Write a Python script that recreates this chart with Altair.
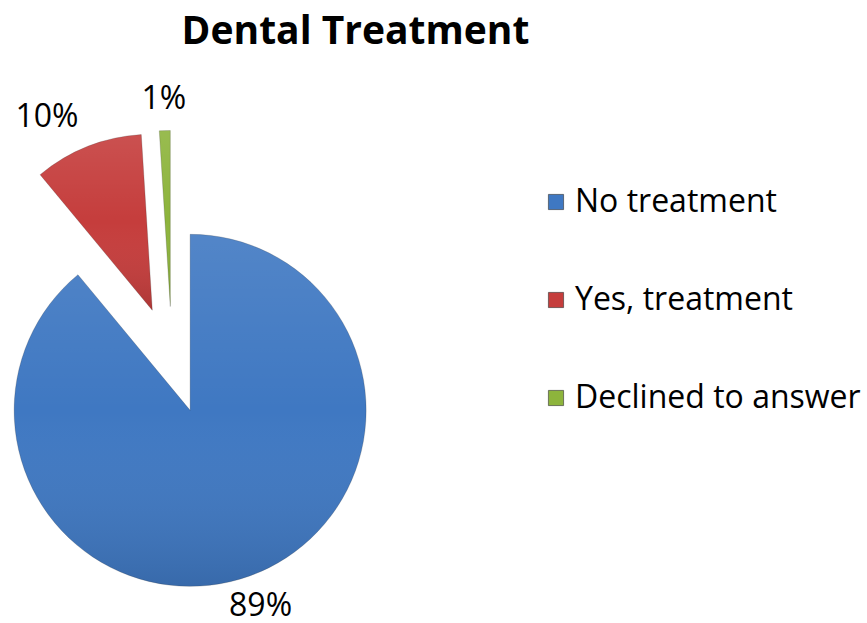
import altair as alt
import pandas as pd

categories = ["No treatment", "Yes, treatment", "Declined to answer"]
values = [89, 10, 1]
labels = ["89%", "10%", "1%"]
colors = ["#3f78c2", "#c53d3c", "#8db43c"]

df = pd.DataFrame({
    "category": categories,
    "value": values,
    "label": labels,
    "order": list(range(len(categories))),
})

TOP = 60          # room for title
CX, CY = 172, 360 - TOP   # unexploded pie centre (view coords)
EXPLODE = 53.5
R = 176
LR = 208
FS = 32

base = (
    alt.Chart(df)
    .transform_joinaggregate(total="sum(value)")
    .transform_window(cum="sum(value)", sort=[alt.SortField("order")], frame=[None, 0])
    .transform_calculate(
        t0="2*PI*(datum.cum - datum.value)/datum.total",
        t1="2*PI*datum.cum/datum.total",
    )
    .transform_calculate(mid="(datum.t0 + datum.t1)/2")
    .transform_calculate(
        vx=f"{CX} + {EXPLODE}*sin(datum.mid)",
        vy=f"{CY} - {EXPLODE}*cos(datum.mid)",
    )
    .transform_calculate(
        lx=f"datum.vx + {LR}*sin(datum.mid) + (sin(datum.mid) < -0.2 ? -0.3*{FS}*length(datum.label) : 0)",
        ly=f"datum.vy - {LR}*cos(datum.mid)",
    )
)

color_scale = alt.Scale(domain=categories, range=colors)

arcs = base.mark_arc(outerRadius=R, stroke="#2a2a2a", strokeWidth=0.6, strokeOpacity=0.35).encode(
    x=alt.X("vx:Q", scale=None),
    y=alt.Y("vy:Q", scale=None),
    theta=alt.Theta("t0:Q", scale=None),
    theta2="t1:Q",
    color=alt.Color(
        "category:N",
        scale=color_scale,
        sort=categories,
        legend=alt.Legend(
            title=None,
            orient="none",
            legendX=540,
            legendY=126,
            symbolType="square",
            symbolSize=230,
            symbolStrokeWidth=0.6,
            symbolStrokeColor="#333333",
            labelFont="Open Sans",
            labelFontSize=FS,
            labelColor="#000000",
            labelOffset=3,
            rowPadding=66,
            padding=0,
            labelLimit=400,
        ),
    ),
)

shade = base.mark_arc(
    outerRadius=R,
    fill=alt.LinearGradient(
        gradient="linear",
        stops=[
            alt.GradientStop(offset=0, color="rgba(255,255,255,0.10)"),
            alt.GradientStop(offset=0.5, color="rgba(255,255,255,0)"),
            alt.GradientStop(offset=1, color="rgba(0,0,0,0.12)"),
        ],
        x1=0, x2=0, y1=0, y2=1,
    ),
).encode(
    x=alt.X("vx:Q", scale=None),
    y=alt.Y("vy:Q", scale=None),
    theta=alt.Theta("t0:Q", scale=None),
    theta2="t1:Q",
)

text = base.mark_text(font="Open Sans", fontSize=FS, color="#000000", align="center", baseline="middle").encode(
    x=alt.X("lx:Q", scale=None),
    y=alt.Y("ly:Q", scale=None),
    text="label:N",
)

chart = (
    alt.layer(arcs, shade, text)
    .properties(
        width=867,
        height=623 - TOP,
        background="white",
        autosize=alt.AutoSizeParams(type="none"),
        padding={"top": TOP, "left": 0, "right": 0, "bottom": 0},
        title=alt.TitleParams(
            "Dental Treatment",
            font="Open Sans",
            fontSize=39,
            fontWeight="bold",
            color="#000000",
            anchor="middle",
            dx=-78,
            offset=8,
        ),
    )
    .configure_view(stroke=None)
)

chart.save("out.html", embed_options={"renderer": "svg", "actions": False})
